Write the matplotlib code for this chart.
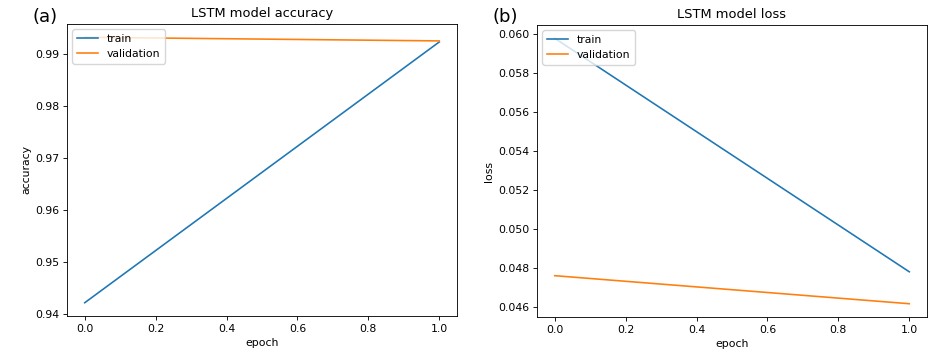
import numpy as np
import matplotlib
matplotlib.use("Agg")
import matplotlib.pyplot as plt

epochs = [0, 1]
acc_train = [0.9421, 0.9923]
acc_val = [0.9932, 0.9925]
loss_train = [0.0598, 0.04781]
loss_val = [0.04761, 0.04617]

# the reference looks like a default figure shrunk to ~78 %
s = 0.78
plt.rcParams.update({
    "font.size": 10 * s,
    "axes.linewidth": 0.8 * s,
    "xtick.major.size": 3.5 * s, "ytick.major.size": 3.5 * s,
    "xtick.major.width": 0.8 * s, "ytick.major.width": 0.8 * s,
    "xtick.major.pad": 3.5 * s, "ytick.major.pad": 3.5 * s,
    "axes.labelpad": 4 * s, "axes.titlepad": 6 * s,
})

fig = plt.figure(figsize=(9.45, 3.6), dpi=100)
ax1 = fig.add_axes([67/945, 1 - 316/360, 390/945, 292/360])
ax2 = fig.add_axes([537/945, 1 - 317/360, 390/945, 292/360])

for ax, tr, va, name, ylab in [(ax1, acc_train, acc_val, "LSTM model accuracy", "accuracy"),
                               (ax2, loss_train, loss_val, "LSTM model loss", "loss")]:
    ax.plot(epochs, tr, color="C0", lw=1.5 * s, label="train")
    ax.plot(epochs, va, color="C1", lw=1.5 * s, label="validation")
    ax.set_title(name, fontsize=12 * s)
    ax.set_xlabel("epoch")
    ax.set_ylabel(ylab)
    ax.legend(loc="upper left")

ax1.set_yticks([0.94, 0.95, 0.96, 0.97, 0.98, 0.99])
ax2.set_yticks([0.046, 0.048, 0.050, 0.052, 0.054, 0.056, 0.058, 0.060])

fig.text(32/945, 1 - 17/360, "(a)", fontsize=13, va="center")
fig.text(493/945, 1 - 17/360, "(b)", fontsize=13, va="center")

fig.savefig("out.png", dpi=100)
